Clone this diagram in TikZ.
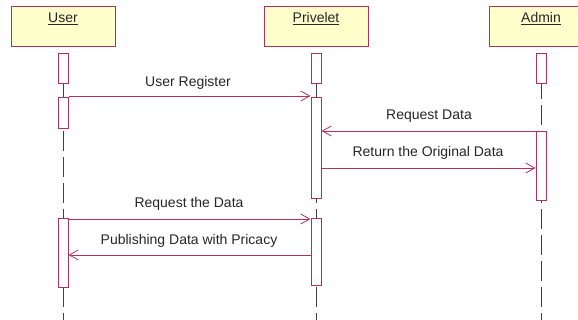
\documentclass[tikz,border=0pt]{standalone}
\usepackage{fontspec}
\setmainfont{Liberation Sans}
\usetikzlibrary{arrows.meta}
\definecolor{umlred}{RGB}{176,48,96}
\definecolor{umlfill}{RGB}{255,255,204}
\definecolor{lifegray}{RGB}{64,64,64}
\begin{document}
\begin{tikzpicture}[x=1pt,y=-1pt,
  head/.style={draw=umlred,fill=umlfill,line width=1pt,minimum width=104pt,minimum height=40pt,inner sep=0pt,anchor=north},
  bar/.style={draw=umlred,fill=white,line width=1pt,minimum width=10pt,inner sep=0pt,anchor=north},
  life/.style={draw=lifegray,line width=1pt,dash pattern=on 20pt off 6pt},
  msg/.style={draw=umlred,line width=0.8pt,-{Straight Barb[length=9pt,width=10pt,line width=0.8pt]}},
  lbl/.style={anchor=base,inner sep=0pt,text=black!85,font=\fontsize{14}{16}\selectfont},
  htxt/.style={anchor=base,inner sep=0pt,text=black!85,font=\fontsize{14}{16}\selectfont}]
\useasboundingbox (0,0) rectangle (578,320);
% heads
\node[head] (hu) at (63,6) {};
\node[head] (hp) at (316,6) {};
\node[head] (ha) at (541,6) {};
\node[htxt] (tu) at (63,23) {\underline{User}};
\node[htxt] (tp) at (316,23) {\underline{Privelet}};
\node[htxt] (ta) at (541,23) {\underline{Admin}};
% lifelines
\coordinate (eu) at (63,320);
\coordinate (ep) at (316,320);
\coordinate (ea) at (541,320);
\coordinate (su) at (63,53);
\coordinate (sp) at (316,53);
\coordinate (sa) at (541,53);
\draw[life] (su) -- (eu);
\draw[life] (sp) -- (ep);
\draw[life] (sa) -- (ea);
% activation bars
\node[bar,minimum height=30pt] (u1) at (63,53) {};
\node[bar,minimum height=31pt] (u2) at (63,97) {};
\node[bar,minimum height=69pt] (u3) at (63,218) {};
\node[bar,minimum height=30pt] (p1) at (316,53) {};
\node[bar,minimum height=101pt] (p2) at (316,97) {};
\node[bar,minimum height=67pt] (p3) at (316,218) {};
\node[bar,minimum height=30pt] (a1) at (541,53) {};
\node[bar,minimum height=69pt] (a2) at (541,131) {};
% messages
\draw[msg] (u2.east |- 0,96) -- (p2.west |- 0,96);
\node[lbl] (l1) at (188,87) {User Register};
\draw[msg] (a2.west |- 0,131) -- (p2.east |- 0,131);
\node[lbl] (l2) at (429,120) {Request Data};
\draw[msg] (p2.east |- 0,168) -- (a2.west |- 0,168);
\node[lbl] (l3) at (428,157) {Return the Original Data};
\draw[msg] (u3.east |- 0,219) -- (p3.west |- 0,219);
\node[lbl] (l4) at (189,208) {Request the Data};
\draw[msg] (p3.west |- 0,255) -- (u3.east |- 0,255);
\node[lbl] (l5) at (189,245) {Publishing Data with Pricacy};
\end{tikzpicture}
\end{document}
